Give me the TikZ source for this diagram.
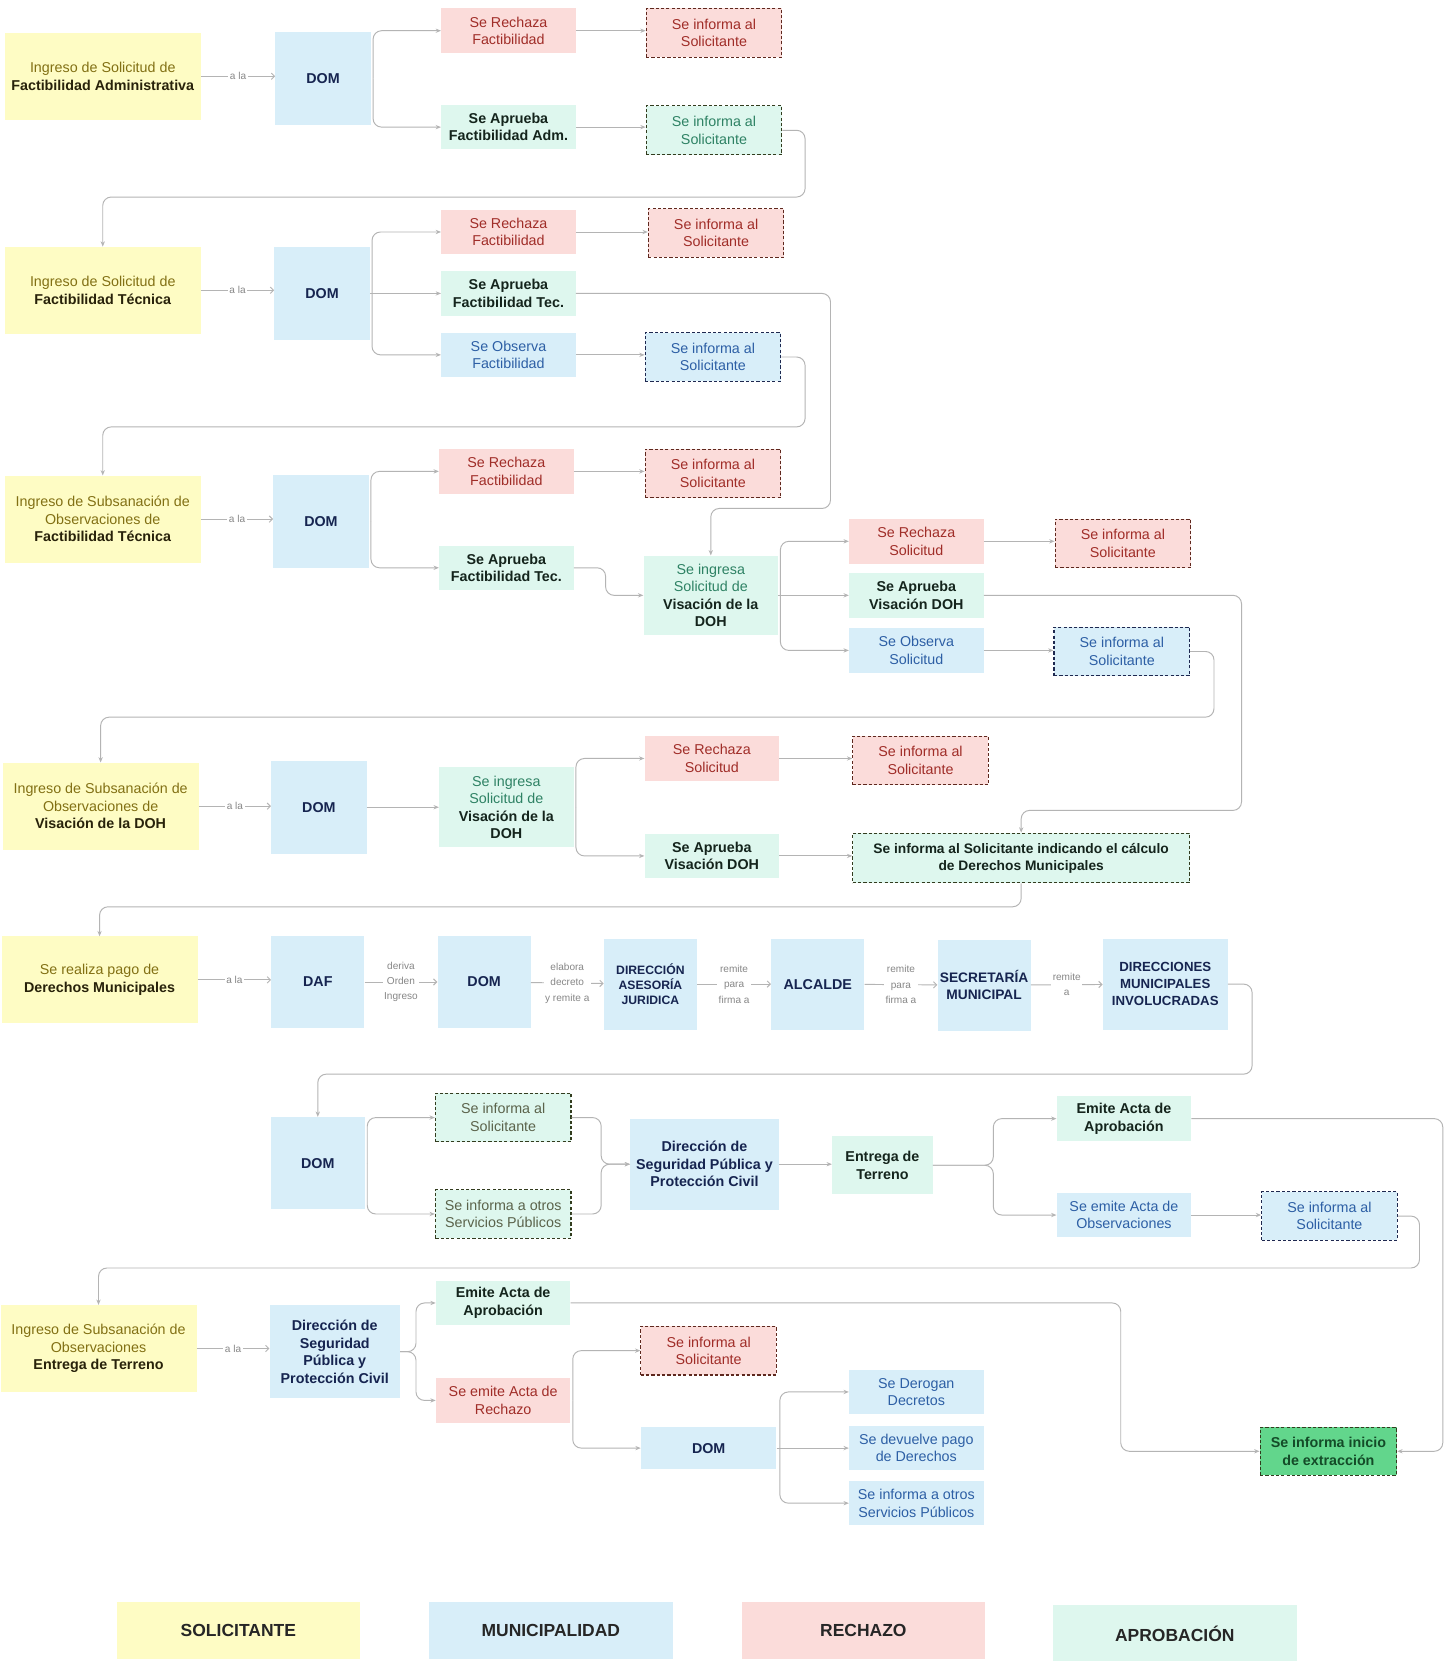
\documentclass[tikz,border=0pt]{standalone}
\usepackage{fontspec}
\setmainfont{Liberation Sans}
\usetikzlibrary{arrows.meta,calc}
\definecolor{ylwfill}{RGB}{254,252,196}
\definecolor{ylwtxt}{RGB}{130,112,20}
\definecolor{ylwbold}{RGB}{40,34,10}
\definecolor{blufill}{RGB}{216,238,249}
\definecolor{blutxt}{RGB}{45,95,165}
\definecolor{bludark}{RGB}{22,36,80}
\definecolor{redfill}{RGB}{251,220,218}
\definecolor{redtxt}{RGB}{160,45,40}
\definecolor{grnfill}{RGB}{222,247,238}
\definecolor{grntxt}{RGB}{46,130,100}
\definecolor{grndark}{RGB}{20,36,28}
\definecolor{extfill}{RGB}{98,214,140}
\definecolor{exttxt}{RGB}{20,75,40}
\definecolor{dashcol}{RGB}{58,46,32}
\definecolor{dashred}{RGB}{95,40,30}
\definecolor{dashblu}{RGB}{30,40,80}
\definecolor{dashgrn}{RGB}{50,60,30}
\definecolor{linecol}{RGB}{180,180,180}
\definecolor{lbltxt}{RGB}{135,135,135}
\newcommand{\myfs}{\fontsize{13.5}{16.5}\selectfont}
\newcommand{\yb}[1]{{\bfseries\color{ylwbold}#1}}
\newcommand{\gb}[1]{{\bfseries\color{grndark}#1}}
\tikzset{
  box/.style={rectangle, align=center, inner sep=1pt, font=\myfs},
  sol/.style={box, fill=ylwfill, text=ylwtxt, minimum width=185pt, minimum height=82pt},
  mun/.style={box, fill=blufill, text=blutxt},
  rej/.style={box, fill=redfill, text=redtxt},
  apr/.style={box, fill=grnfill, text=grntxt},
  aprb/.style={box, fill=grnfill, text=grndark, font=\myfs\bfseries, minimum width=127pt, minimum height=42pt},
  smallbox/.style={minimum width=127pt, minimum height=42pt},
  dombox/.style={box, fill=blufill, text=bludark, font=\myfs\bfseries, minimum width=90pt, minimum height=88pt},
  infbox/.style={draw=dashcol, line width=1pt, dash pattern=on 3pt off 2pt, minimum width=128pt, minimum height=46pt},
  infred/.style={rej, infbox, draw=dashred},
  infblu/.style={mun, infbox, draw=dashblu},
  infgrn/.style={apr, infbox, draw=dashgrn},
  conn/.style={draw=linecol, line width=0.9pt, rounded corners=8pt, -{Stealth[length=5pt,width=4pt]}},
  ala/.style={draw=linecol, line width=0.9pt, -{Straight Barb[length=3pt,width=6pt]}},
  lbl/.style={font=\fontsize{9.5}{14.5}\selectfont, text=lbltxt, fill=white, inner sep=1.5pt, align=center},
  legbox/.style={rectangle, align=center, font=\fontsize{16.5}{19}\selectfont\bfseries, text=black!85, minimum width=230pt, minimum height=54pt}
}
\begin{document}
\begin{tikzpicture}[x=1pt,y=-1pt]
\fill[white] (0,0) rectangle (1369,1568);
\useasboundingbox (0,0) rectangle (1369,1568);

% ---------- Row 1
\node[sol] (y1) at (97,72) {Ingreso de Solicitud de\\\yb{Factibilidad Administrativa}};
\node[dombox] (dom1) at (305,74) {DOM};
\node[rej,smallbox] (rech1) at (480,29) {Se Rechaza\\Factibilidad};
\node[infred] (inf1) at (674,31) {Se informa al\\Solicitante};
\node[aprb] (apr1) at (480,120) {Se Aprueba\\Factibilidad Adm.};
\node[infgrn] (inf2) at (674,123) {Se informa al\\Solicitante};

% ---------- Row 2
\node[sol] (y2) at (97,274) {Ingreso de Solicitud de\\\yb{Factibilidad Técnica}};
\node[dombox] (dom2) at (304,277) {DOM};
\node[rej,smallbox] (rech2) at (480,219) {Se Rechaza\\Factibilidad};
\node[infred] (inf3) at (676,220) {Se informa al\\Solicitante};
\node[aprb] (apr2) at (480,277) {Se Aprueba\\Factibilidad Tec.};
\node[mun,smallbox] (obs2) at (480,335) {Se Observa\\Factibilidad};
\node[infblu] (inf4) at (673,337) {Se informa al\\Solicitante};

% ---------- Row 3
\node[sol] (y3) at (97,490) {Ingreso de Subsanación de\\Observaciones de\\\yb{Factibilidad Técnica}};
\node[dombox] (dom3) at (303,492) {DOM};
\node[rej,smallbox] (rech3) at (478,445) {Se Rechaza\\Factibilidad};
\node[infred] (inf5) at (673,447) {Se informa al\\Solicitante};
\node[aprb] (apr3) at (478,536) {Se Aprueba\\Factibilidad Tec.};
\node[apr,minimum width=127pt,minimum height=75pt] (vis1) at (671,562) {Se ingresa\\Solicitud de\\\gb{Visación de la}\\\gb{DOH}};
\node[rej,smallbox] (rechS1) at (865,511) {Se Rechaza\\Solicitud};
\node[infred] (inf6) at (1060,513) {Se informa al\\Solicitante};
\node[aprb] (aprV1) at (865,562) {Se Aprueba\\Visación DOH};
\node[mun,smallbox] (obsS1) at (865,614) {Se Observa\\Solicitud};
\node[infblu] (inf7) at (1059,615) {Se informa al\\Solicitante};

% ---------- Row 4
\node[sol] (y4) at (95,761) {Ingreso de Subsanación de\\Observaciones de\\\yb{Visación de la DOH}};
\node[dombox] (dom4) at (301,762) {DOM};
\node[apr,minimum width=127pt,minimum height=75pt] (vis2) at (478,762) {Se ingresa\\Solicitud de\\\gb{Visación de la}\\\gb{DOH}};
\node[rej,smallbox] (rechS2) at (672,716) {Se Rechaza\\Solicitud};
\node[infred] (inf8) at (869,718) {Se informa al\\Solicitante};
\node[aprb] (aprV2) at (672,808) {Se Aprueba\\Visación DOH};
\node[aprb,infbox,draw=dashgrn,minimum width=318pt,minimum height=47pt,font=\fontsize{13}{16}\selectfont\bfseries] (der) at (964,810) {Se informa al Solicitante indicando el cálculo\\de Derechos Municipales};

% ---------- Row 5
\node[sol] (y5) at (94,925) {Se realiza pago de\\\yb{Derechos Municipales}};
\node[dombox,minimum width=88pt,minimum height=86pt] (daf) at (300,927) {DAF};
\node[dombox,minimum width=88pt,minimum height=86pt] (dom5) at (457,927) {DOM};
\node[dombox,minimum width=88pt,minimum height=86pt,font=\fontsize{11.5}{14.5}\selectfont\bfseries] (ase) at (614,929) {DIRECCIÓN\\ASESORÍA\\JURIDICA};
\node[dombox,minimum width=88pt,minimum height=86pt] (alc) at (772,929) {ALCALDE};
\node[dombox,minimum width=88pt,minimum height=86pt,font=\fontsize{13}{16}\selectfont\bfseries] (sec) at (929,930) {SECRETARÍA\\MUNICIPAL};
\node[dombox,minimum width=118pt,minimum height=86pt,font=\fontsize{12.5}{16}\selectfont\bfseries] (dir) at (1100,929) {DIRECCIONES\\MUNICIPALES\\INVOLUCRADAS};

% ---------- Row 6
\node[dombox,minimum width=89pt,minimum height=87pt] (dom6) at (300,1098) {DOM};
\node[infgrn,text=dashgrn!80] (infG) at (475,1055) {Se informa al\\Solicitante};
\node[infgrn,text=dashgrn!80] (infO) at (475,1146) {Se informa a otros\\Servicios Públicos};
\node[dombox,minimum width=140pt,minimum height=86pt] (dsp1) at (665,1099) {Dirección de\\Seguridad Pública y\\Protección Civil};
\node[aprb,minimum width=95pt,minimum height=55pt] (ent) at (833,1100) {Entrega de\\Terreno};
\node[aprb] (emi1) at (1061,1056) {Emite Acta de\\Aprobación};
\node[mun,smallbox] (aobs) at (1061,1147) {Se emite Acta de\\Observaciones};
\node[infblu] (inf9) at (1255,1148) {Se informa al\\Solicitante};

% ---------- Row 7
\node[sol] (y6) at (93,1273) {Ingreso de Subsanación de\\Observaciones\\\yb{Entrega de Terreno}};
\node[dombox,minimum width=123pt,minimum height=88pt] (dsp2) at (316,1276) {Dirección de\\Seguridad\\Pública y\\Protección Civil};
\node[aprb] (emi2) at (475,1230) {Emite Acta de\\Aprobación};
\node[rej,smallbox] (arech) at (475,1322) {Se emite Acta de\\Rechazo};
\node[infred] (inf10) at (669,1275) {Se informa al\\Solicitante};
\node[dombox,minimum width=128pt,minimum height=40pt] (dom7) at (669,1367) {DOM};
\node[mun,smallbox] (drg) at (865,1314) {Se Derogan\\Decretos};
\node[mun,smallbox] (dev) at (865,1367) {Se devuelve pago\\de Derechos};
\node[mun,smallbox] (oth2) at (865,1419) {Se informa a otros\\Servicios Públicos};
\node[box,infbox,draw=dashgrn,fill=extfill,text=exttxt,font=\myfs\bfseries,minimum width=129pt,minimum height=45pt] (ext) at (1254,1370) {Se informa inicio\\de extracción};

% ---------- Legend
\node[legbox,fill=ylwfill] (leg1) at (225,1539) {SOLICITANTE};
\node[legbox,fill=blufill] (leg2) at (520,1539) {MUNICIPALIDAD};
\node[legbox,fill=redfill] (leg3) at (815,1539) {RECHAZO};
\node[legbox,fill=grnfill] (leg4) at (1109,1542) {APROBACIÓN};

% ---------- helper coordinates
\coordinate (c1) at (760,186);
\coordinate (c2) at (784,480);
\coordinate (c3) at (760,403);
\coordinate (c4) at (1172,765);
\coordinate (c5) at (1146,677);
\coordinate (c6) at (0,856);
\coordinate (c7) at (1182,1014);
\coordinate (c8) at (1362,0);
\coordinate (c9) at (1340,1197);
\coordinate (c10) at (1058,0);

% ---------- Connectors row 1
\draw[ala] (y1.east) -- node[lbl]{a la} (y1.east -| dom1.west);
\draw[conn] ([xshift=2pt]dom1.east) |- (rech1.west);
\draw[conn] ([xshift=2pt]dom1.east) |- (apr1.west);
\draw[conn] (rech1.east) -- (rech1.east -| inf1.west);
\draw[conn] (apr1.east) -- (apr1.east -| inf2.west);
\draw[conn] (inf2.east) -| (c1) -| (y2.north);

% ---------- Connectors row 2
\draw[ala] (y2.east) -- node[lbl]{a la} (y2.east -| dom2.west);
\draw[conn] ([xshift=2pt]dom2.east) |- (rech2.west);
\draw[conn] (dom2.east) -- (dom2.east -| apr2.west);
\draw[conn] ([xshift=2pt]dom2.east) |- (obs2.west);
\draw[conn] (rech2.east) -- (rech2.east -| inf3.west);
\draw[conn] (obs2.east) -- (obs2.east -| inf4.west);
\draw[conn] (apr2.east) -| (c2) -| (vis1.north);
\draw[conn] (inf4.east) -| (c3) -| (y3.north);

% ---------- Connectors row 3
\draw[ala] (y3.east) -- node[lbl]{a la} (y3.east -| dom3.west);
\draw[conn] ([xshift=2pt]dom3.east) |- (rech3.west);
\draw[conn] ([xshift=2pt]dom3.east) |- (apr3.west);
\draw[conn] (rech3.east) -- (rech3.east -| inf5.west);
\draw[conn] (apr3.east) -- ++(30,0) |- (vis1.west);
\draw[conn] ([xshift=2pt]vis1.east) |- (rechS1.west);
\draw[conn] (vis1.east) -- (vis1.east -| aprV1.west);
\draw[conn] ([xshift=2pt]vis1.east) |- (obsS1.west);
\draw[conn] (rechS1.east) -- (rechS1.east -| inf6.west);
\draw[conn] (obsS1.east) -- (obsS1.east -| inf7.west);
\draw[conn] (aprV1.east) -| (c4) -| (der.north);
\draw[conn] (inf7.east) -| (c5) -| (y4.north);

% ---------- Connectors row 4
\draw[ala] (y4.east) -- node[lbl]{a la} (y4.east -| dom4.west);
\draw[conn] (dom4.east) -- (dom4.east -| vis2.west);
\draw[conn] ([xshift=2pt]vis2.east) |- (rechS2.west);
\draw[conn] ([xshift=2pt]vis2.east) |- (aprV2.west);
\draw[conn] (rechS2.east) -- (rechS2.east -| inf8.west);
\draw[conn] (aprV2.east) -- (aprV2.east -| der.west);
\draw[conn] (der.south) -- (der.south |- c6) -| (y5.north);

% ---------- Connectors row 5
\draw[ala] (y5.east) -- node[lbl]{a la} (y5.east -| daf.west);
\draw[ala] (daf) -- node[lbl]{deriva\\Orden\\Ingreso} (dom5);
\draw[ala] (dom5) -- node[lbl]{elabora\\decreto\\y remite a} (ase);
\draw[ala] (ase) -- node[lbl]{remite\\para\\firma a} (alc);
\draw[ala] (alc) -- node[lbl]{remite\\para\\firma a} (sec);
\draw[ala] (sec) -- node[lbl]{remite\\a} (dir);
\draw[conn] (dir.east) -| (c7) -| (dom6.north);

% ---------- Connectors row 6
\draw[conn] ([xshift=2pt]dom6.east) |- (infG.west);
\draw[conn] ([xshift=2pt]dom6.east) |- (infO.west);
\draw[conn] (infG.east) -- ++(28,0) |- (dsp1.west);
\draw[conn] (infO.east) -- ++(28,0) |- (dsp1.west);
\draw[conn] (dsp1.east) -- (dsp1.east -| ent.west);
\draw[conn] (ent.east) -- ++(57,0) |- (emi1.west);
\draw[conn] (ent.east) -- ++(57,0) |- (aobs.west);
\draw[conn] (aobs.east) -- (aobs.east -| inf9.west);
\draw[conn] (emi1.east) -| (c8 |- ext.east) -- (ext.east);
\draw[conn] (inf9.east) -| (c9) -| (y6.north);

% ---------- Connectors row 7
\draw[ala] (y6.east) -- node[lbl]{a la} (y6.east -| dsp2.west);
\draw[conn] (dsp2.east) -- ++(15,0) |- (emi2.west);
\draw[conn] (dsp2.east) -- ++(15,0) |- (arech.west);
\draw[conn] (emi2.east) -| (c10 |- ext.west) -- (ext.west);
\draw[conn] ([xshift=2pt]arech.east) |- (inf10.west);
\draw[conn] ([xshift=2pt]arech.east) |- (dom7.west);
\draw[conn] ([xshift=3pt]dom7.east) |- (drg.west);
\draw[conn] (dom7.east) -- (dom7.east -| dev.west);
\draw[conn] ([xshift=3pt]dom7.east) |- (oth2.west);
\end{tikzpicture}
\end{document}
